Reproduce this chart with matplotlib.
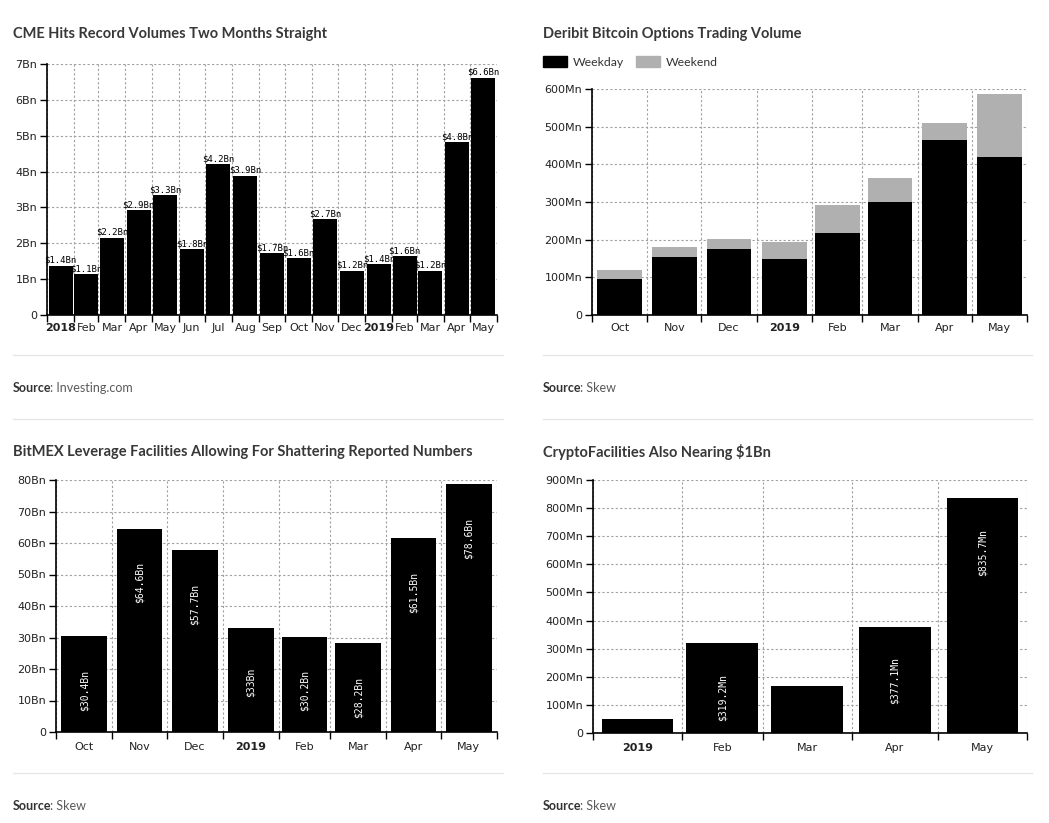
import numpy as np
import pandas as pd
import matplotlib
matplotlib.use("Agg")
import matplotlib.pyplot as plt
import matplotlib.dates as mdates
from matplotlib.lines import Line2D
from matplotlib.patches import Patch
from matplotlib.text import Annotation
from matplotlib.ticker import FuncFormatter

W, H = 1049, 823

# ---- data ----
cme_months = ["2018-01", "2018-02", "2018-03", "2018-04", "2018-05", "2018-06",
              "2018-07", "2018-08", "2018-09", "2018-10", "2018-11", "2018-12",
              "2019-01", "2019-02", "2019-03", "2019-04", "2019-05"]
cme_values = [1.38, 1.13, 2.16, 2.93, 3.34, 1.84, 4.21, 3.89, 1.72, 1.58,
              2.68, 1.24, 1.43, 1.64, 1.24, 4.82, 6.62]  # Bn

deribit_months = ["2018-10", "2018-11", "2018-12", "2019-01",
                  "2019-02", "2019-03", "2019-04", "2019-05"]
deribit_weekday = [95, 153, 174, 150, 219, 299, 464, 419]  # Mn
deribit_weekend = [24, 27, 27, 43, 72, 64, 45, 169]

bitmex_months = deribit_months
bitmex_values = [30.4, 64.6, 57.7, 33.0, 30.2, 28.2, 61.5, 78.6]  # Bn

cf_months = ["2019-01", "2019-02", "2019-03", "2019-04", "2019-05"]
cf_values = [48.6, 319.2, 168.0, 377.1, 835.7]  # Mn
cf_show = [False, True, False, True, True]

MONTH_ABBR = ["Jan", "Feb", "Mar", "Apr", "May", "Jun",
              "Jul", "Aug", "Sep", "Oct", "Nov", "Dec"]


def px_axes(fig, x0, y0, x1, y1):
    # pixel box -> figure axes
    return fig.add_axes([x0 / W, 1 - y1 / H, (x1 - x0) / W, (y1 - y0) / H])


def month_pos(months):
    starts = pd.to_datetime(months)
    ends = starts + pd.offsets.MonthBegin(1)
    s = mdates.date2num(starts)
    e = mdates.date2num(ends)
    return starts, s, e, (s + e) / 2


def style_axes(ax, months, ymax, ystep, unit, xpad=6):
    starts, s, e, mids = month_pos(months)
    ax.set_xlim(s[0], e[-1])
    ax.set_ylim(0, ymax)
    ax.set_xticks(list(s) + [e[-1]])
    ax.set_xticklabels([])
    ax.set_xticks(mids, minor=True)
    labels = [str(d.year) if d.month == 1 else MONTH_ABBR[d.month - 1] for d in starts]
    ax.set_xticklabels(labels, minor=True)
    for t, d in zip(ax.get_xticklabels(minor=True), starts):
        if d.month == 1:
            t.set_fontweight("bold")
    ax.set_yticks(np.arange(0, ymax + ystep / 2, ystep))
    ax.yaxis.set_major_formatter(FuncFormatter(lambda v, p: "0" if v == 0 else f"{v:g}{unit}"))
    ax.grid(True, which="major", color="#a0a0a0", linestyle=(0, (2, 2)), linewidth=0.8)
    ax.set_axisbelow(True)
    for sp in ["top", "right"]:
        ax.spines[sp].set_visible(False)
    for sp in ["left", "bottom"]:
        ax.spines[sp].set_color("black")
        ax.spines[sp].set_linewidth(1.2)
    ax.tick_params(which="major", length=5, width=1, color="black",
                   labelsize=8, labelcolor="#222222")
    ax.tick_params(axis="x", which="minor", length=0, pad=xpad,
                   labelsize=8, labelcolor="#222222")
    ax.tick_params(axis="y", pad=2)
    return mids


def title(fig, x, y, text):
    fig.text(x / W, 1 - y / H, text, fontsize=10.5, fontweight="bold",
             color="#383838", family="Lato", va="center", ha="left")


def source(fig, x, y, text):
    t1 = fig.text(x / W, 1 - y / H, "Source", fontsize=9, fontweight="bold",
                  color="#333333", family="Lato", va="center", ha="left")
    a = Annotation(": " + text, xy=(1, 0), xycoords=t1, xytext=(-2, 0),
                   textcoords="offset pixels", va="bottom", ha="left",
                   fontsize=9, color="#5a5a5a", family="Lato")
    fig.add_artist(a)


def hline(fig, x0, x1, y):
    fig.add_artist(Line2D([x0 / W, x1 / W], [1 - y / H, 1 - y / H],
                          color="#e6e6e6", linewidth=1))


fig = plt.figure(figsize=(W / 100, H / 100), dpi=100)
fig.patch.set_facecolor("white")

BAR_W = 25  # days

# ---- CME ----
ax1 = px_axes(fig, 47, 64, 497, 315)
mids = style_axes(ax1, cme_months, 7, 1, "Bn", xpad=6)
b1 = ax1.bar(mids, cme_values, width=27.5, color="black")
ax1.bar_label(b1, labels=[f"${v:.1f}Bn" for v in cme_values], padding=0.5,
              fontsize=6.5, family="DejaVu Sans Mono", color="black")
title(fig, 13, 34, "CME Hits Record Volumes Two Months Straight")

# ---- Deribit ----
ax2 = px_axes(fig, 592, 89, 1027, 315)
mids = style_axes(ax2, deribit_months, 600, 100, "Mn", xpad=6)
ax2.bar(mids, deribit_weekday, width=BAR_W, color="black", label="Weekday")
ax2.bar(mids, deribit_weekend, width=BAR_W, bottom=deribit_weekday,
        color="#b0b0b0", label="Weekend")
title(fig, 543, 34, "Deribit Bitcoin Options Trading Volume")
fig.legend(handles=[Patch(color="black", label="Weekday"),
                    Patch(color="#b0b0b0", label="Weekend")],
           loc="center left", bbox_to_anchor=(543 / W, 1 - 62 / H), ncol=2,
           frameon=False, borderpad=0, borderaxespad=0, handlelength=2.0,
           handleheight=1.0, handletextpad=0.45, columnspacing=0.95,
           prop={"family": "Lato", "size": 8.8}, labelcolor="#333333")

# ---- BitMEX ----
ax3 = px_axes(fig, 56, 480, 497, 732)
mids = style_axes(ax3, bitmex_months, 80, 10, "Bn", xpad=7.5)
ax3.bar(mids, bitmex_values, width=BAR_W, color="black")
for xm, v in zip(mids, bitmex_values):
    ax3.annotate(f"${v:g}Bn", xy=(xm, v), xytext=(0, -54), textcoords="offset pixels",
                 rotation=90, ha="center", va="center", color="white",
                 fontsize=7, family="DejaVu Sans Mono")
title(fig, 13, 452, "BitMEX Leverage Facilities Allowing For Shattering Reported Numbers")

# ---- CryptoFacilities ----
ax4 = px_axes(fig, 593, 480, 1027, 733)
mids = style_axes(ax4, cf_months, 900, 100, "Mn", xpad=7.5)
ax4.bar(mids, cf_values, width=BAR_W, color="black")
for xm, v, show in zip(mids, cf_values, cf_show):
    if show:
        ax4.annotate(f"${v:.1f}Mn", xy=(xm, v), xytext=(0, -54), textcoords="offset pixels",
                     rotation=90, ha="center", va="center", color="white",
                     fontsize=7, family="DejaVu Sans Mono")
title(fig, 543, 452, "CryptoFacilities Also Nearing $1Bn")

# ---- separators / sources ----
for x0, x1 in [(13, 503), (543, 1032)]:
    hline(fig, x0, x1, 355)
    hline(fig, x0, x1, 419)
    hline(fig, x0, x1, 773)
source(fig, 13, 388, "Investing.com")
source(fig, 543, 388, "Skew")
source(fig, 13, 806, "Skew")
source(fig, 543, 806, "Skew")

fig.savefig("out.png", dpi=100, facecolor="white")
